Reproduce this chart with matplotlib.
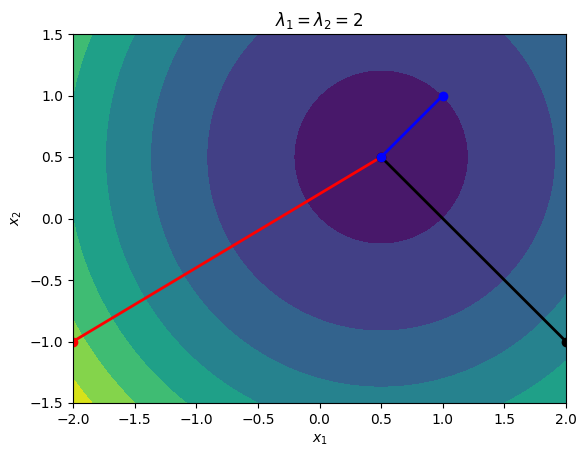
import numpy as np
from matplotlib import pyplot as plt

# quadratic f(x) = 0.5 x^T A x - b^T x with A = diag(lam), minimum at x_star
lam = [2.0, 2.0]
x_star = [0.5, 0.5]
levels = [-1.5, 0.0, 1.5, 3.0, 4.5, 6.0, 7.5, 9.0, 10.5]

# paths from each start point to the minimiser
blue_path_x = [0.5, 1.0]
blue_path_y = [0.5, 1.0]
red_path_x = [-2.0, 0.5]
red_path_y = [-1.0, 0.5]
black_path_x = [0.5, 2.0]
black_path_y = [0.5, -1.0]

x1 = np.linspace(-2, 2, 400)
x2 = np.linspace(-1.5, 1.5, 300)
X1, X2 = np.meshgrid(x1, x2)
f_min = -0.5 * (lam[0] * x_star[0]**2 + lam[1] * x_star[1]**2)
F = 0.5 * (lam[0] * (X1 - x_star[0])**2 + lam[1] * (X2 - x_star[1])**2) + f_min

fig = plt.figure(figsize=(5.87, 4.57), dpi=100)
ax = fig.add_axes([73/587, (457-403)/457, (566-73)/587, (403-34)/457])
ax.contourf(X1, X2, F, levels=levels)

ax.plot(red_path_x, red_path_y, 'o-', color='red', lw=2)
ax.plot(black_path_x, black_path_y, 'o-', color='black', lw=2)
ax.plot(blue_path_x, blue_path_y, 'o-', color='blue', lw=2)

ax.set_xlim(-2, 2)
ax.set_ylim(-1.5, 1.5)
ax.set_xlabel('$x_1$')
ax.set_ylabel('$x_2$')
ax.set_title(r'$\lambda_1 = \lambda_2 = 2$')

fig.savefig('out.png')
